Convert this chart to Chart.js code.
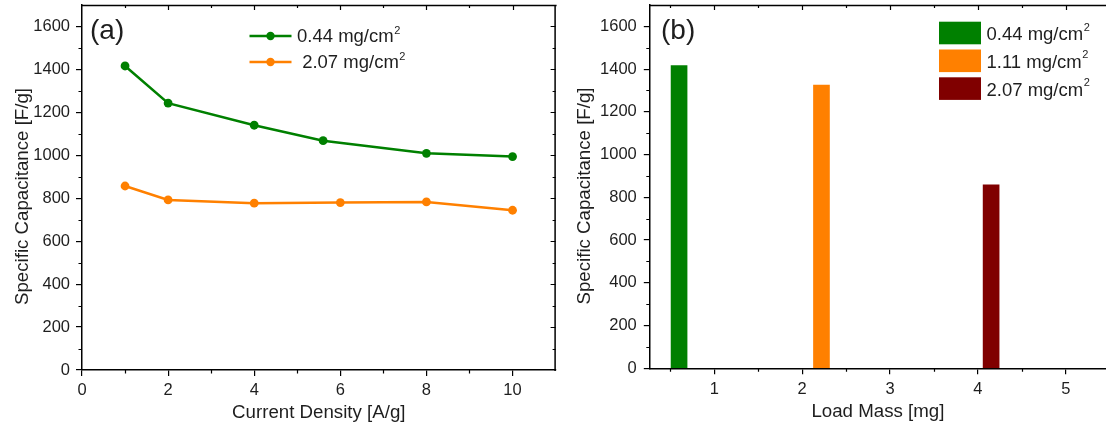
<!DOCTYPE html>
<html>
<head>
<meta charset="utf-8">
<title>Specific capacitance</title>
<script src="https://cdn.jsdelivr.net/npm/chart.js@4/dist/chart.umd.min.js"></script>
<style>
  html, body { margin: 0; padding: 0; background: #fff; }
  #wrap { position: relative; width: 1106px; height: 427px; overflow: hidden; }
  canvas { position: absolute; top: 0; }
  #capRate { left: 0; }
  #capMass { left: 560px; }
</style>
</head>
<body>
<div id="wrap">
  <canvas id="capRate" width="560" height="427"></canvas>
  <canvas id="capMass" width="546" height="427"></canvas>
</div>
<script>
// ---- (a) specific capacitance vs current density ----
const densityLow  = [1, 2, 4, 5.6, 8, 10];               // A/g
const capLow      = [1416, 1243, 1140, 1068, 1009, 994]; // F/g
const densityHigh = [1, 2, 4, 6, 8, 10];                 // A/g
const capHigh     = [857, 792, 777, 780, 783, 744];      // F/g
const seriesNamesA = ['0.44 mg/cm²', ' 2.07 mg/cm²'];

// ---- (b) specific capacitance vs load mass ----
const loadMass  = [0.6, 2.22, 4.15];   // mg
const capAtMass = [1416, 1325, 858];   // F/g
const seriesNamesB = ['0.44 mg/cm²', '1.11 mg/cm²', '2.07 mg/cm²'];

// ---- axis ticks ----
const capTicks      = [0, 200, 400, 600, 800, 1000, 1200, 1400, 1600];
const capMinor      = [100, 300, 500, 700, 900, 1100, 1300, 1500];
const densityTicks  = [0, 2, 4, 6, 8, 10];
const densityMinor  = [1, 3, 5, 7, 9];
const massTicks     = [1, 2, 3, 4, 5];
const massMinor     = [0.5, 1.5, 2.5, 3.5, 4.5];

const capTitle = 'Specific Capacitance [F/g]';

const GREEN = '#008000', ORANGE = '#ff8000', MAROON = '#800000';
const INK = '#000';
const TEXT = '#1e1e1e';
const FONT = '"Liberation Sans", Arial, Helvetica, sans-serif';

Chart.defaults.font.family = FONT;
Chart.defaults.color = TEXT;

// fixed axis box sizes so the plot frames land where they should
function fixWidth(w) {
  return s => { s.width = w; s.paddingTop = s.paddingBottom = s.paddingLeft = s.paddingRight = 0; };
}
function fixHeight(h) {
  return s => { s.height = h; s.paddingTop = s.paddingBottom = s.paddingLeft = s.paddingRight = 0; };
}
function useTicks(values) {
  return s => { s.ticks = values.map(v => ({ value: v })); };
}

// text with a trailing "²" drawn as a raised small "2"
function drawSupText(ctx, text, x, y, size, supSize, rise) {
  let base = text, sup = '';
  if (text.endsWith('²')) { base = text.slice(0, -1); sup = '2'; }
  ctx.font = size + 'px ' + FONT;
  ctx.textAlign = 'left';
  ctx.textBaseline = 'alphabetic';
  ctx.fillText(base, x, y);
  if (sup) {
    const w = ctx.measureText(base).width;
    ctx.font = supSize + 'px ' + FONT;
    ctx.fillText(sup, x + w + 0.5, y - rise);
  }
}

// top/right frame, minor ticks and mirrored inner ticks
const framePlugin = {
  id: 'frame',
  afterDraw(chart, args, o) {
    const { ctx, chartArea: a, scales: { x, y } } = chart;
    ctx.save();
    ctx.strokeStyle = INK;
    ctx.lineWidth = 1.5;
    ctx.beginPath();
    ctx.moveTo(a.left, a.top + 0.5); ctx.lineTo(a.right + 1, a.top + 0.5);
    if (o.right) { ctx.moveTo(a.right - 0.5, a.top); ctx.lineTo(a.right - 0.5, a.bottom + 1); }
    ctx.stroke();

    ctx.lineWidth = 1.2;
    ctx.beginPath();
    const inX = v => v > x.min && v < x.max;
    const inY = v => v > y.min && v < y.max;
    o.xMinor.filter(inX).forEach(v => {
      const p = Math.round(x.getPixelForValue(v)) + 0.5;
      ctx.moveTo(p, a.bottom); ctx.lineTo(p, a.bottom + 3.5);
      ctx.moveTo(p, a.top); ctx.lineTo(p, a.top + 3);
    });
    o.xMajor.filter(inX).forEach(v => {
      const p = Math.round(x.getPixelForValue(v)) + 0.5;
      ctx.moveTo(p, a.top); ctx.lineTo(p, a.top + 5);
    });
    capMinor.filter(inY).forEach(v => {
      const p = Math.round(y.getPixelForValue(v)) + 0.5;
      ctx.moveTo(a.left, p); ctx.lineTo(a.left - 3.5, p);
      if (o.right) { ctx.moveTo(a.right, p); ctx.lineTo(a.right - 3, p); }
    });
    if (o.right) {
      capTicks.filter(inY).forEach(v => {
        const p = Math.round(y.getPixelForValue(v)) + 0.5;
        ctx.moveTo(a.right, p); ctx.lineTo(a.right - 5, p);
      });
    }
    ctx.stroke();
    ctx.restore();
  }
};

// panel tag and rotated y-axis caption
const labelPlugin = {
  id: 'labels',
  afterDraw(chart, args, o) {
    const ctx = chart.ctx;
    ctx.save();
    ctx.fillStyle = TEXT;
    ctx.font = '28px ' + FONT;
    ctx.textBaseline = 'alphabetic';
    ctx.textAlign = 'left';
    ctx.fillText(o.tag, o.tagX, o.tagY);

    ctx.translate(o.titleX, o.titleY);
    ctx.rotate(-Math.PI / 2);
    ctx.font = '18.7px ' + FONT;
    ctx.textAlign = 'center';
    ctx.textBaseline = 'middle';
    ctx.fillText(o.title, 0, 0);
    ctx.restore();
  }
};

// legend with line + marker keys
const lineKeyPlugin = {
  id: 'lineKey',
  afterDraw(chart, args, o) {
    const ctx = chart.ctx;
    ctx.save();
    chart.data.datasets.forEach((ds, i) => {
      const cy = o.y + i * o.step;
      ctx.strokeStyle = ds.borderColor;
      ctx.lineWidth = 2.5;
      ctx.beginPath();
      ctx.moveTo(o.x, cy); ctx.lineTo(o.x + o.len, cy);
      ctx.stroke();
      ctx.fillStyle = ds.borderColor;
      ctx.beginPath();
      ctx.arc(o.x + o.len / 2, cy, 4.2, 0, Math.PI * 2);
      ctx.fill();
      ctx.fillStyle = TEXT;
      drawSupText(ctx, ds.label, o.x + o.len + 5.5, cy + 6, 18.5, 11, 8);
    });
    ctx.restore();
  }
};

// legend with filled box keys
const boxKeyPlugin = {
  id: 'boxKey',
  afterDraw(chart, args, o) {
    const ctx = chart.ctx;
    ctx.save();
    chart.data.datasets.forEach((ds, i) => {
      const top = o.y + i * o.step;
      ctx.fillStyle = ds.backgroundColor;
      ctx.fillRect(o.x, top, o.w, o.h);
      ctx.fillStyle = TEXT;
      drawSupText(ctx, ds.label, o.x + o.w + 5.5, top + o.h / 2 + 7, 18.5, 11, 9.5);
    });
    ctx.restore();
  }
};

function axisCommon() {
  return {
    type: 'linear',
    border: { display: true, color: INK, width: 1.5 },
    grid: { drawOnChartArea: false, drawTicks: true, tickLength: 6, color: INK, lineWidth: 1.2, offset: false },
    ticks: { font: { size: 16.5 }, color: TEXT, callback: v => String(v) }
  };
}

// ---- chart (a) ----
const xA = axisCommon();
Object.assign(xA, {
  min: 0, max: 11,
  afterBuildTicks: useTicks(densityTicks),
  afterFit: fixHeight(57),
  title: { display: true, text: 'Current Density [A/g]', font: { size: 18.7 }, color: TEXT, padding: { top: 0, bottom: 3 } }
});
xA.ticks.padding = 5;
const yA = axisCommon();
Object.assign(yA, {
  min: 0, max: 1700,
  afterBuildTicks: useTicks(capTicks),
  afterFit: fixWidth(82)
});
yA.ticks.padding = 6;

new Chart(document.getElementById('capRate'), {
  type: 'scatter',
  data: {
    datasets: [
      {
        label: seriesNamesA[0],
        data: densityLow.map((d, i) => ({ x: d, y: capLow[i] })),
        borderColor: GREEN, backgroundColor: GREEN
      },
      {
        label: seriesNamesA[1],
        data: densityHigh.map((d, i) => ({ x: d, y: capHigh[i] })),
        borderColor: ORANGE, backgroundColor: ORANGE
      }
    ].map(ds => Object.assign(ds, {
      showLine: true, borderWidth: 2.5, tension: 0,
      pointRadius: 4.4, pointBorderWidth: 0, pointBackgroundColor: ds.borderColor
    }))
  },
  options: {
    responsive: false,
    animation: false,
    layout: { padding: { top: 5, right: 2.3, bottom: 0, left: 0 } },
    scales: { x: xA, y: yA },
    plugins: {
      legend: { display: false },
      tooltip: { enabled: false },
      frame: { right: true, xMajor: densityTicks, xMinor: densityMinor },
      labels: { tag: '(a)', tagX: 90, tagY: 39, title: capTitle, titleX: 23, titleY: 196.5 },
      lineKey: { x: 249.5, y: 36, step: 26, len: 42 }
    }
  },
  plugins: [framePlugin, labelPlugin, lineKeyPlugin]
});

// ---- chart (b) ----
const xB = axisCommon();
Object.assign(xB, {
  min: 0.267, max: 5.457, offset: false,
  afterBuildTicks: useTicks(massTicks),
  afterFit: fixHeight(58.7),
  title: { display: true, text: 'Load Mass [mg]', font: { size: 18.7 }, color: TEXT, padding: { top: 0, bottom: 4 } }
});
xB.ticks.padding = 5;
const yB = axisCommon();
Object.assign(yB, {
  min: 0, max: 1700,
  afterBuildTicks: useTicks(capTicks),
  afterFit: fixWidth(89.8)
});
yB.ticks.padding = 7;

const colorsB = [GREEN, ORANGE, MAROON];
new Chart(document.getElementById('capMass'), {
  type: 'bar',
  data: {
    datasets: seriesNamesB.map((name, i) => ({
      label: name,
      data: [{ x: loadMass[i], y: capAtMass[i] }],
      backgroundColor: colorsB[i],
      borderWidth: 0,
      barThickness: 16,
      grouped: false
    }))
  },
  options: {
    responsive: false,
    animation: false,
    layout: { padding: { top: 5, right: 0, bottom: 0, left: 0 } },
    scales: { x: xB, y: yB },
    plugins: {
      legend: { display: false },
      tooltip: { enabled: false },
      frame: { right: false, xMajor: massTicks, xMinor: massMinor },
      labels: { tag: '(b)', tagX: 101, tagY: 39, title: capTitle, titleX: 24.5, titleY: 196 },
      boxKey: { x: 379, y: 21.7, step: 27.8, w: 42, h: 22.6 }
    }
  },
  plugins: [framePlugin, labelPlugin, boxKeyPlugin]
});
</script>
</body>
</html>
